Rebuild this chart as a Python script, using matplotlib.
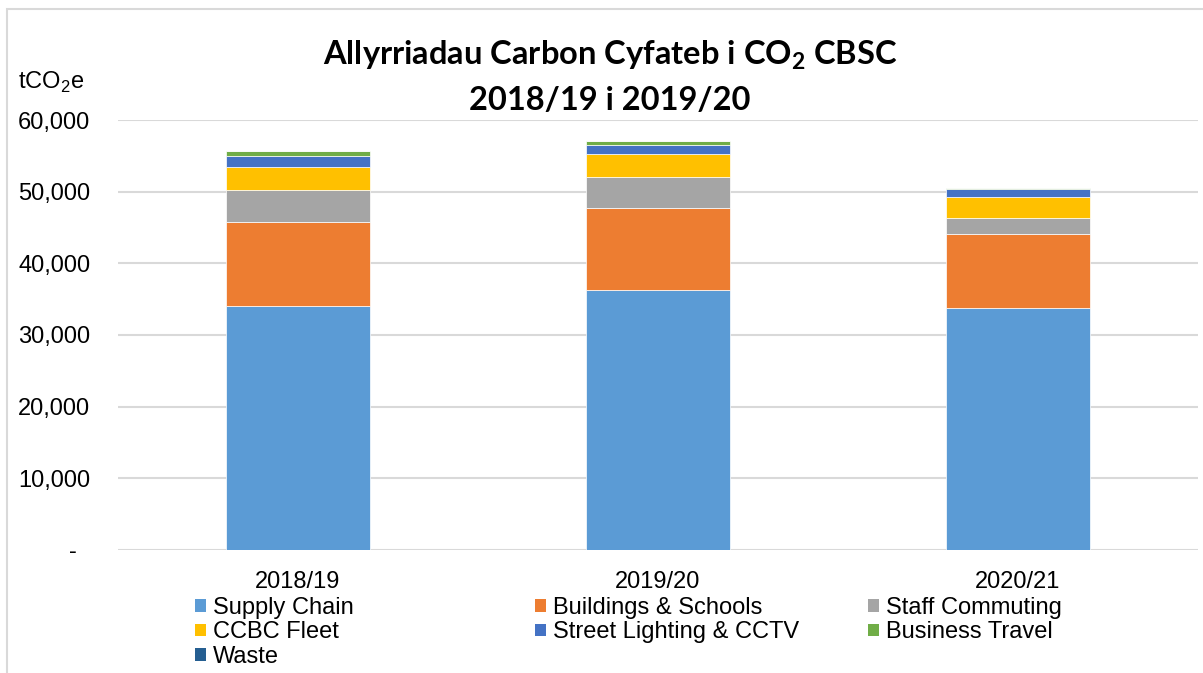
import matplotlib.pyplot as plt
import numpy as np
from matplotlib.patches import Rectangle, Patch
from matplotlib.ticker import FuncFormatter, MultipleLocator

plt.rcParams['font.family'] = ['Liberation Sans', 'DejaVu Sans']
plt.rcParams['mathtext.fontset'] = 'custom'
plt.rcParams['mathtext.rm'] = 'Liberation Sans'
plt.rcParams['mathtext.bf'] = 'Lato:bold'

years = ['2018/19', '2019/20', '2020/21']
supply_chain = [34050, 36280, 33770]
buildings = [11720, 11420, 10280]
staff_commuting = [4460, 4300, 2320]
ccbc_fleet = [3270, 3250, 2930]
street_lighting = [1500, 1250, 1030]
business_travel = [670, 570, 170]
waste = [60, 60, 50]

series = [
    ('Supply Chain', supply_chain, '#5B9BD5'),
    ('Buildings & Schools', buildings, '#ED7D31'),
    ('Staff Commuting', staff_commuting, '#A5A5A5'),
    ('CCBC Fleet', ccbc_fleet, '#FFC000'),
    ('Street Lighting & CCTV', street_lighting, '#4472C4'),
    ('Business Travel', business_travel, '#70AD47'),
    ('Waste', waste, '#255E91'),
]

W, H = 1203, 673
fig = plt.figure(figsize=(W / 100, H / 100), dpi=100)
ax = fig.add_axes([118 / W, 1 - 550 / H, 1080 / W, 430 / H])

x = np.arange(len(years))
bottom = np.zeros(len(years))
handles = {}
for name, vals, color in series:
    ax.bar(x, vals, width=0.4, bottom=bottom, color=color,
           edgecolor='white', linewidth=0.5, zorder=3)
    bottom += np.array(vals)
    handles[name] = Patch(facecolor=color, edgecolor='none')

ax.set_xlim(-0.5, 2.5)
ax.set_ylim(0, 60000)
ax.yaxis.set_major_locator(MultipleLocator(10000))
ax.yaxis.set_major_formatter(FuncFormatter(
    lambda v, p: '-  ' if v == 0 else f'{v:,.0f}'))
ax.grid(axis='y', color='#d9d9d9', linewidth=1.5, zorder=0)
ax.set_xticks(x)
ax.set_xticklabels(years)
ax.tick_params(length=0, labelsize=17)
ax.tick_params(axis='y', pad=20)
ax.tick_params(axis='x', pad=15)
for s in ax.spines.values():
    s.set_visible(False)

# title and unit label
fig.text(610 / W, 1 - 55 / H,
         r'Allyrriadau Carbon Cyfateb i $\mathbf{CO_2}$ CBSC',
         ha='center', va='center', fontsize=23.5, fontweight='bold', family='Lato')
fig.text(610 / W, 1 - 100 / H, '2018/19 i 2019/20',
         ha='center', va='center', fontsize=23.5, fontweight='bold', family='Lato')
fig.text(18 / W, 1 - 82 / H, r'tCO$_2$e', ha='left', va='center', fontsize=17)

# legend in three columns, rows go left to right like the original
cols = [
    (['Supply Chain', 'CCBC Fleet', 'Waste'], 195),
    (['Buildings & Schools', 'Street Lighting & CCTV'], 535),
    (['Staff Commuting', 'Business Travel'], 868),
]
for names, xpos in cols:
    fig.legend([handles[n] for n in names], names, loc='upper left',
               bbox_to_anchor=(xpos / W, 1 - 597 / H), frameon=False,
               fontsize=17, handlelength=0.45, handleheight=0.45,
               handletextpad=0.3, labelspacing=0.1, borderpad=0,
               borderaxespad=0)

# chart frame
fig.patches.append(Rectangle((7 / W, -0.1), 1.2, 1 - 9 / H + 0.1,
                             transform=fig.transFigure, fill=False,
                             edgecolor='#d9d9d9', linewidth=1.5))

fig.savefig('out.png', dpi=100)
